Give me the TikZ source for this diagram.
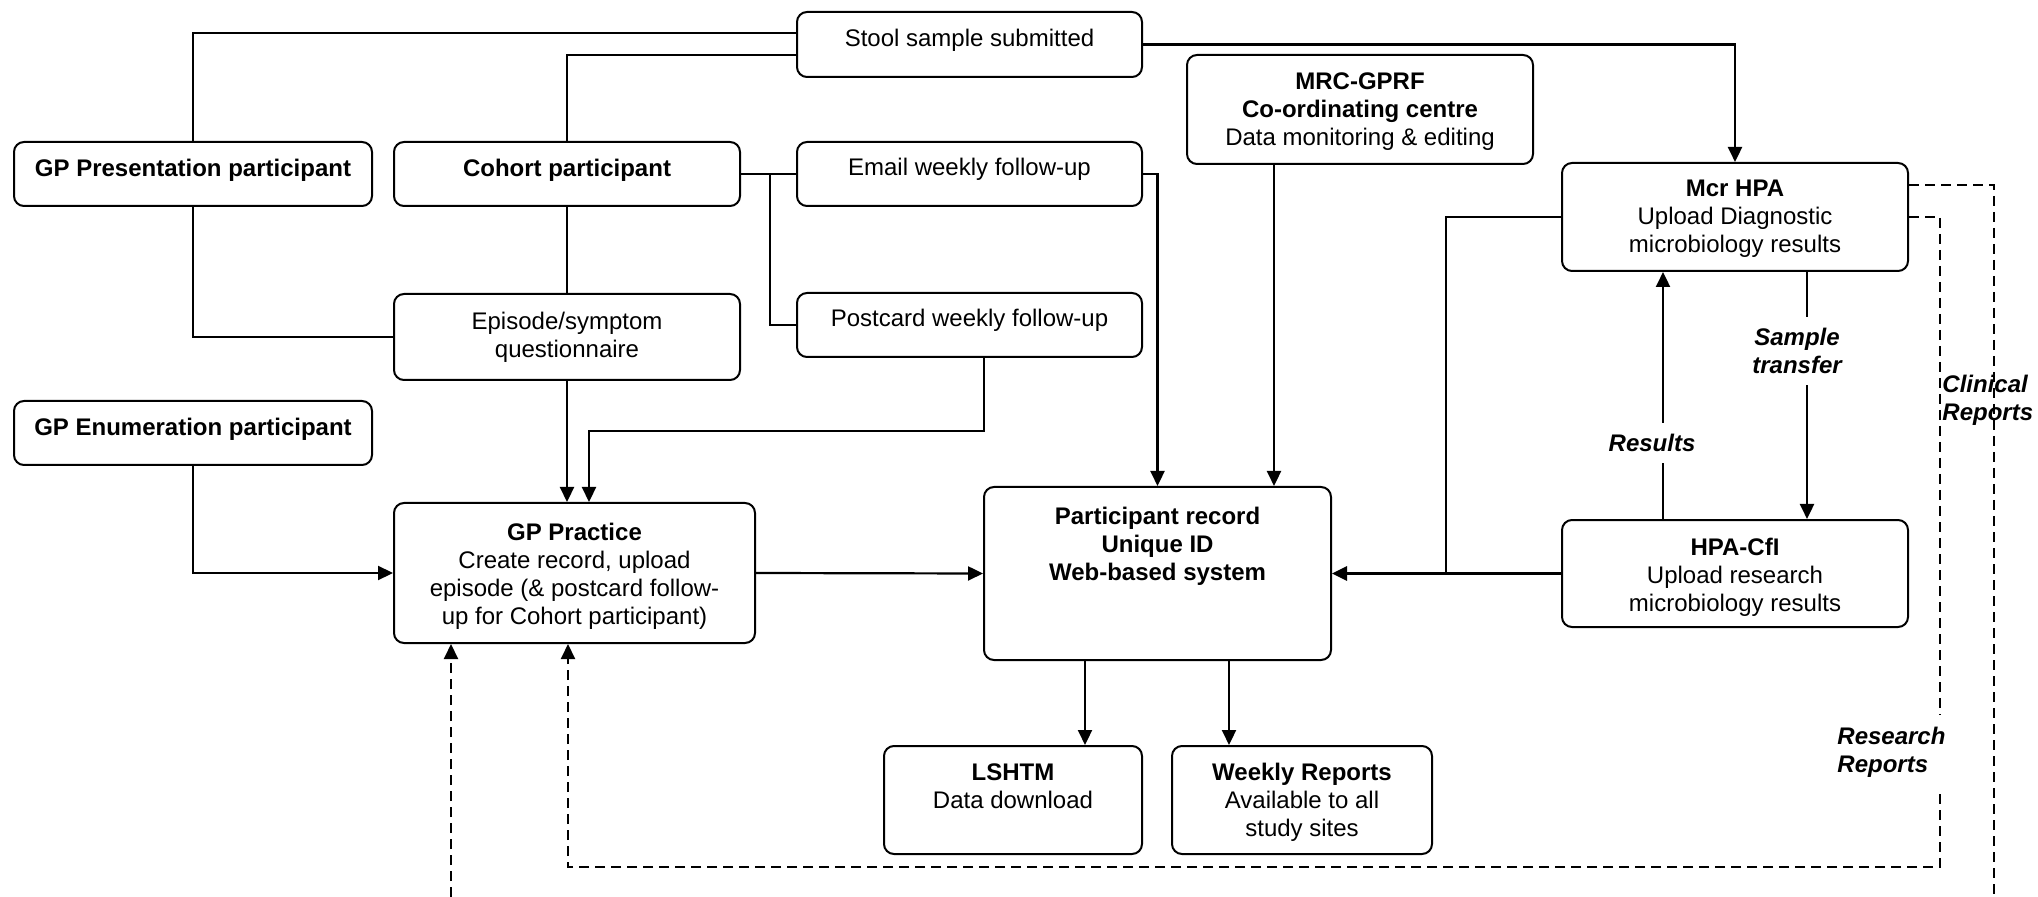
\documentclass[tikz,border=0pt]{standalone}
\usepackage{fontspec}
\setmainfont{Liberation Sans}
\usetikzlibrary{arrows.meta,calc}
\begin{document}
\begin{tikzpicture}[x=0.5pt,y=-0.5pt,
  box/.style={draw, line width=1pt, rounded corners=5pt, inner sep=0pt},
  txt/.style={font=\fontsize{12}{14}\selectfont, align=center, inner sep=0pt, anchor=north},
  btxt/.style={txt, font=\fontsize{12}{14}\selectfont\bfseries},
  link/.style={line width=0.9pt},
  arr/.style={line width=1.1pt, -{Triangle[length=7.5pt,width=7pt]}},
  dashlink/.style={line width=1pt, dash pattern=on 5pt off 3pt},
  lab/.style={font=\fontsize{12}{14}\selectfont\bfseries\itshape, inner sep=0pt}
]
\useasboundingbox (0,0) rectangle (2038,897);

% ---- boxes ----
\node[box, minimum width=172.5pt, minimum height=32.5pt] (stool)    at (969.5,44.5) {};
\node[box, minimum width=179pt,   minimum height=32pt]   (gppres)   at (193,174) {};
\node[box, minimum width=173pt,   minimum height=32pt]   (cohort)   at (567,174) {};
\node[box, minimum width=172.5pt, minimum height=32pt]   (email)    at (969.5,174) {};
\node[box, minimum width=173pt,   minimum height=43pt]   (episode)  at (567,337) {};
\node[box, minimum width=172.5pt, minimum height=32pt]   (postcard) at (969.5,325) {};
\node[box, minimum width=179pt,   minimum height=32pt]   (gpenum)   at (193,433) {};
\node[box, minimum width=180.5pt, minimum height=70pt]   (gpprac)   at (574.5,573) {};
\node[box, minimum width=173pt,   minimum height=54.5pt] (mrc)      at (1360,109.5) {};
\node[box, minimum width=173.5pt, minimum height=86.5pt] (record)   at (1157.5,573.5) {};
\node[box, minimum width=173pt,   minimum height=54pt]   (mcr)      at (1735,217) {};
\node[box, minimum width=173pt,   minimum height=53.5pt] (cfi)      at (1735,573.5) {};
\node[box, minimum width=129pt,   minimum height=54pt]   (lshtm)    at (1013,800) {};
\node[box, minimum width=130pt,   minimum height=54pt]   (weekly)   at (1302,800) {};

% ---- box texts ----
\node[txt]  (stool-t)    at ($(stool.north)+(0,18)$)    {Stool sample submitted};
\node[btxt] (gppres-t)   at ($(gppres.north)+(0,18)$)   {GP Presentation participant};
\node[btxt] (cohort-t)   at ($(cohort.north)+(0,18)$)   {Cohort participant};
\node[txt]  (email-t)    at ($(email.north)+(0,17)$)    {Email weekly follow-up};
\node[txt]  (episode-t)  at ($(episode.north)+(0,19)$)  {Episode/symptom\\questionnaire};
\node[txt]  (postcard-t) at ($(postcard.north)+(0,17)$) {Postcard weekly follow-up};
\node[btxt] (gpenum-t)   at ($(gpenum.north)+(0,18)$)   {GP Enumeration participant};
\node[txt]  (gpprac-t)   at ($(gpprac.north)+(0,21)$)
  {\textbf{GP Practice}\\Create record, upload\\episode (\& postcard follow-\\up for Cohort participant)};
\node[txt]  (mrc-t)      at ($(mrc.north)+(0,18)$)
  {\textbf{MRC-GPRF}\\\textbf{Co-ordinating centre}\\Data monitoring \& editing};
\node[btxt] (record-t)   at ($(record.north)+(0,21)$)
  {Participant record\\Unique ID\\Web-based system};
\node[txt]  (mcr-t)      at ($(mcr.north)+(0,18)$)
  {\textbf{Mcr HPA}\\Upload Diagnostic\\microbiology results};
\node[txt]  (cfi-t)      at ($(cfi.north)+(0,19)$)
  {\textbf{HPA-CfI}\\Upload research\\microbiology results};
\node[txt]  (lshtm-t)    at ($(lshtm.north)+(0,18)$)    {\textbf{LSHTM}\\Data download};
\node[txt]  (weekly-t)   at ($(weekly.north)+(0,18)$)
  {\textbf{Weekly Reports}\\Available to all\\study sites};

% ---- bend points ----
\coordinate (j1) at (770,0);
\coordinate (p1) at (984,431);
\coordinate (p2) at (589,431);
\coordinate (m1) at (1274,0);
\coordinate (b1) at (1446,0);
\coordinate (r1) at (1663,0);
\coordinate (s1) at (1807,0);
\coordinate (d1) at (1085,0);
\coordinate (d2) at (1229,0);
\coordinate (c1) at (1994,897);
\coordinate (c2) at (1940,867);
\coordinate (g1) at (451,897);
\coordinate (g2) at (568,0);

% ---- labels on connectors ----
\node[lab, align=center, inner sep=5.5pt] (res) at (1652,443) {Results};
\node[lab, align=center, inner sep=5.5pt] (smp) at (1797,351) {Sample\\transfer};
\node[lab, align=left, anchor=west] (clin) at (1942,400) {Clinical\\Reports};

% ---- solid connectors ----
\draw[link] ($(stool.west)+(0,-11.5)$) -| (gppres.north);
\draw[link] ($(stool.west)+(0,10.5)$) -| (cohort.north);
\draw[arr]  (stool.east) -| (mcr.north);
\draw[link] (cohort.east) -- (email.west);
\draw[link] (j1 |- cohort.east) |- (postcard.west);
\draw[link] (gppres.south) |- (episode.west);
\draw[link] (cohort.south) -- (episode.north);
\draw[arr]  (episode.south) -- (episode.south |- gpprac.north);
\draw[arr]  (p1 |- postcard.south) -- (p1) -- (p2) -- (p2 |- gpprac.north);
\draw[arr]  (gpenum.south) |- (gpprac.west);
\draw[arr]  (gpprac.east) -- (record.west);
\draw[arr]  (email.east) -| (record.north);
\draw[arr]  (m1 |- mrc.south) -- (m1 |- record.north);
\draw[link] (mcr.west) -| (b1 |- cfi.west);
\draw[arr, line width=1.4pt] (cfi.west) -- (record.east);
\draw[link] (r1 |- cfi.north) -- (r1 |- res.south);
\draw[arr]  (r1 |- res.north) -- (r1 |- mcr.south);
\draw[link] (s1 |- mcr.south) -- (s1 |- smp.north);
\draw[arr]  (s1 |- smp.south) -- (s1 |- cfi.north);
\draw[arr]  (d1 |- record.south) -- (d1 |- lshtm.north);
\draw[arr]  (d2 |- record.south) -- (d2 |- weekly.north);

% ---- dashed report routes ----
\draw[dashlink] ($(mcr.east)+(0,-32)$) -| (c1);
\draw[dashlink, arr, line width=1pt] (mcr.east) -| (c2) -| (g2 |- gpprac.south);
\draw[dashlink, arr, line width=1pt] (g1) -- (g1 |- gpprac.south);
\node[lab, align=left, anchor=west, fill=white, inner xsep=3pt, inner ysep=6pt] (rrep) at (1831,752) {Research\\Reports};
\end{tikzpicture}
\end{document}
